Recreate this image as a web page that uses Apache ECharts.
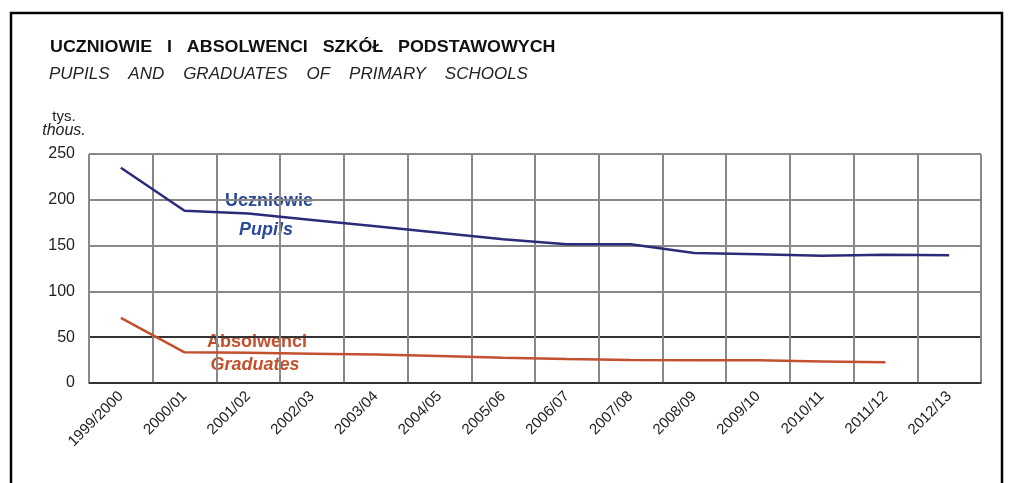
<!DOCTYPE html>
<html>
<head>
<meta charset="utf-8">
<script src="https://cdn.jsdelivr.net/npm/echarts@6/dist/echarts.min.js"></script>
<style>
  html, body { margin: 0; padding: 0; background: #fff; }
  #chart { width: 1014px; height: 483px; }
</style>
</head>
<body>
<div id="chart"></div>
<script>
  // school years
  var years = ['1999/2000', '2000/01', '2001/02', '2002/03', '2003/04', '2004/05', '2005/06',
    '2006/07', '2007/08', '2008/09', '2009/10', '2010/11', '2011/12', '2012/13'];
  // thousands
  var pupils = [235, 188, 185, 178, 171, 164, 157, 151.5, 151.5, 142, 140.5, 139, 140, 139.5];
  var graduates = [71, 33.5, 33, 32, 31, 29.5, 27.5, 26.2, 25.2, 24.7, 24.7, 23.6, 22.6, null];
  var yTicks = [0, 50, 100, 150, 200, 250];

  var chart = echarts.init(document.getElementById('chart'));
  var font = 'Liberation Sans, Arial, sans-serif';
  var blue = '#2d4a9a';
  var red = '#c4502e';

  function label(text, x, y, style, color) {
    return { type: 'text', x: x, y: y,
      style: { text: text, font: style + ' 18px ' + font, fill: color, align: 'center', verticalAlign: 'middle' } };
  }

  var option = {
    animation: false,
    textStyle: { fontFamily: font },
    grid: { left: 89, right: 33, top: 154, bottom: 100 },
    graphic: [
      { type: 'rect', shape: { x: 11, y: 13, width: 991, height: 500 },
        style: { fill: 'none', stroke: '#000', lineWidth: 2.5 } },
      { type: 'text', x: 50, y: 39, scaleX: 1.05,
        style: { text: 'UCZNIOWIE   I   ABSOLWENCI   SZKÓŁ   PODSTAWOWYCH', font: 'bold 17px ' + font, fill: '#111' } },
      { type: 'text', x: 49, y: 66,
        style: { text: 'PUPILS    AND    GRADUATES    OF    PRIMARY    SCHOOLS', font: 'italic 17px ' + font, fill: '#222' } },
      { type: 'text', x: 64, y: 117,
        style: { text: 'tys.', font: '15px ' + font, fill: '#222', align: 'center', verticalAlign: 'middle' } },
      { type: 'text', x: 64, y: 131,
        style: { text: 'thous.', font: 'italic 16px ' + font, fill: '#222', align: 'center', verticalAlign: 'middle' } },
      label('Uczniowie', 269, 201, 'bold', blue),
      label('Pupils', 266, 230, 'italic bold', blue),
      label('Absolwenci', 257, 342, 'bold', red),
      label('Graduates', 255, 365, 'italic bold', red)
    ],
    xAxis: {
      type: 'category',
      data: years,
      boundaryGap: true,
      axisLine: { show: true, lineStyle: { color: '#333', width: 1.5 } },
      axisTick: { show: false },
      axisLabel: { rotate: 45, interval: 0, color: '#222', fontSize: 15, margin: 11 },
      splitLine: { show: true, interval: 0, lineStyle: { color: '#888', width: 2 } }
    },
    yAxis: {
      type: 'value',
      min: 0,
      max: 250,
      interval: 50,
      axisLine: { show: false },
      axisTick: { show: false },
      axisLabel: { color: '#222', fontSize: 16, margin: 14,
        formatter: function (v) { return yTicks.indexOf(v) >= 0 ? String(v) : ''; } },
      splitLine: { lineStyle: { color: ['#333', '#333', '#888', '#888', '#888', '#888'], width: 2 } }
    },
    series: [
      { name: 'Uczniowie', type: 'line', data: pupils, symbol: 'none',
        lineStyle: { color: '#2b2c78', width: 2.5 } },
      { name: 'Absolwenci', type: 'line', data: graduates, symbol: 'none',
        lineStyle: { color: '#c3502f', width: 2.5 } }
    ]
  };

  chart.setOption(option);
</script>
</body>
</html>
